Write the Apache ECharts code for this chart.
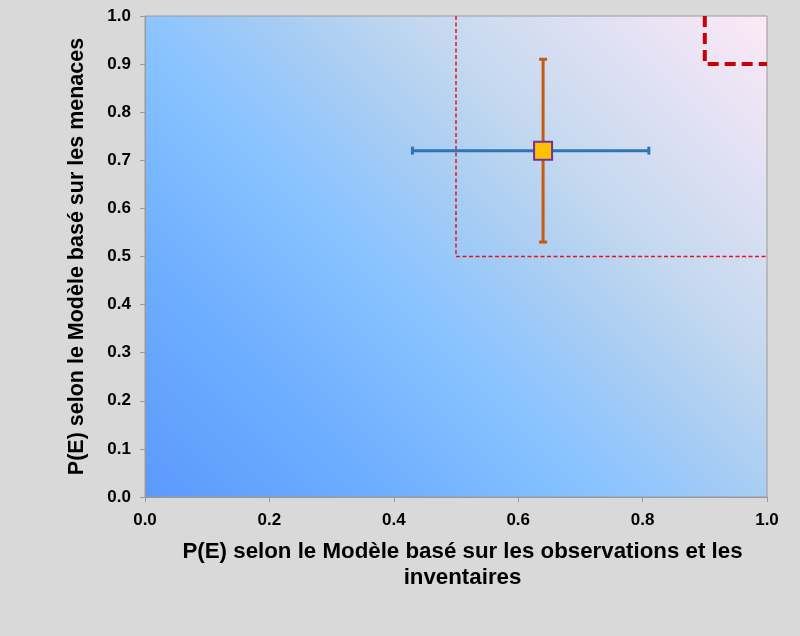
<!DOCTYPE html>
<html><head><meta charset="utf-8">
<script src="https://cdn.jsdelivr.net/npm/echarts@6/dist/echarts.min.js"></script>
<style>html,body{margin:0;padding:0;background:#fff}#c{width:800px;height:636px}</style>
</head><body><div id="c"></div>
<script>
const xTitle = 'P(E) selon le Modèle basé sur les observations et les\ninventaires';
const yTitle = 'P(E) selon le Modèle basé sur les menaces';
const point = [0.64, 0.72];
const xError = [0.43, 0.81];
const yError = [0.53, 0.91];
const thinBox = [[0.5, 1.0], [0.5, 0.5], [1.0, 0.5]];
const thickBox = [[0.9, 1.0], [0.9, 0.9], [1.0, 0.9]];

const chart = echarts.init(document.getElementById('c'));
const font = '"Liberation Sans", Arial, sans-serif';
const GL = 145, GR = 33, GT = 16, GB = 139;
const W = 800 - GL - GR, H = 636 - GT - GB;
const half = (W + H) / 2;
chart.setOption({
  backgroundColor: '#d9d9d9',
  animation: false,
  grid: {
    left: GL, right: GR, top: GT, bottom: GB,
    show: true, borderColor: '#9a9a9a', borderWidth: 1,
    backgroundColor: new echarts.graphic.LinearGradient(GL, GT + H, GL + half, GT + H - half, [
      {offset: 0, color: '#5c99fc'},
      {offset: 0.22, color: '#6eaeff'},
      {offset: 0.42, color: '#89c3ff'},
      {offset: 0.56, color: '#a8cdf3'},
      {offset: 0.68, color: '#c3d8ef'},
      {offset: 0.85, color: '#e2e1f4'},
      {offset: 1, color: '#fde9f6'}
    ], true)
  },
  xAxis: {
    type: 'value', min: 0, max: 1, interval: 0.2,
    name: xTitle, nameLocation: 'middle', nameGap: 42,
    nameTextStyle: {fontFamily: font, fontWeight: 'bold', fontSize: 22.3, color: '#000', lineHeight: 26, padding: [0, 0, 0, 13]},
    axisLine: {show: true, lineStyle: {color: '#9a9a9a'}},
    axisTick: {show: true, length: 5, lineStyle: {color: '#9a9a9a'}},
    splitLine: {show: false},
    axisLabel: {fontFamily: font, fontWeight: 'bold', fontSize: 17, color: '#000', margin: 15,
      formatter: v => v.toFixed(1)}
  },
  yAxis: {
    type: 'value', min: 0, max: 1, interval: 0.1,
    name: yTitle, nameLocation: 'middle', nameGap: 57,
    nameTextStyle: {fontFamily: font, fontWeight: 'bold', fontSize: 21.5, color: '#000'},
    axisLine: {show: true, lineStyle: {color: '#9a9a9a'}},
    axisTick: {show: true, length: 5, lineStyle: {color: '#9a9a9a'}},
    splitLine: {show: false},
    axisLabel: {fontFamily: font, fontWeight: 'bold', fontSize: 17, color: '#000', margin: 14,
      formatter: v => v.toFixed(1)}
  },
  series: [
    {
      type: 'line', data: thinBox, symbol: 'none', z: 2,
      lineStyle: {color: '#e8141c', width: 1.5, type: [4, 2.5]}
    },
    {
      type: 'line', data: thickBox, symbol: 'none', z: 2,
      lineStyle: {color: '#c8000a', width: 4, type: [11, 6]}
    },
    {
      type: 'custom', z: 3,
      data: [[point[0], point[1], xError[0], xError[1], yError[0], yError[1]]],
      renderItem: function (params, api) {
        const c = api.coord([api.value(0), api.value(1)]);
        const xl = api.coord([api.value(2), api.value(1)]);
        const xh = api.coord([api.value(3), api.value(1)]);
        const yl = api.coord([api.value(0), api.value(4)]);
        const yh = api.coord([api.value(0), api.value(5)]);
        const blue = {stroke: '#2e75b6', lineWidth: 3};
        const orange = {stroke: '#c55a11', lineWidth: 3};
        const cap = 4;
        return {type: 'group', children: [
          {type: 'line', shape: {x1: xl[0], y1: xl[1], x2: xh[0], y2: xh[1]}, style: blue},
          {type: 'line', shape: {x1: xl[0], y1: xl[1] - cap, x2: xl[0], y2: xl[1] + cap}, style: blue},
          {type: 'line', shape: {x1: xh[0], y1: xh[1] - cap, x2: xh[0], y2: xh[1] + cap}, style: blue},
          {type: 'line', shape: {x1: yl[0], y1: yl[1], x2: yh[0], y2: yh[1]}, style: orange},
          {type: 'line', shape: {x1: yl[0] - cap, y1: yl[1], x2: yl[0] + cap, y2: yl[1]}, style: orange},
          {type: 'line', shape: {x1: yh[0] - cap, y1: yh[1], x2: yh[0] + cap, y2: yh[1]}, style: orange},
          {type: 'rect', shape: {x: c[0] - 9, y: c[1] - 9, width: 18, height: 18},
            style: {fill: '#ffc000', stroke: '#7030a0', lineWidth: 2}}
        ]};
      }
    }
  ]
});
</script></body></html>
